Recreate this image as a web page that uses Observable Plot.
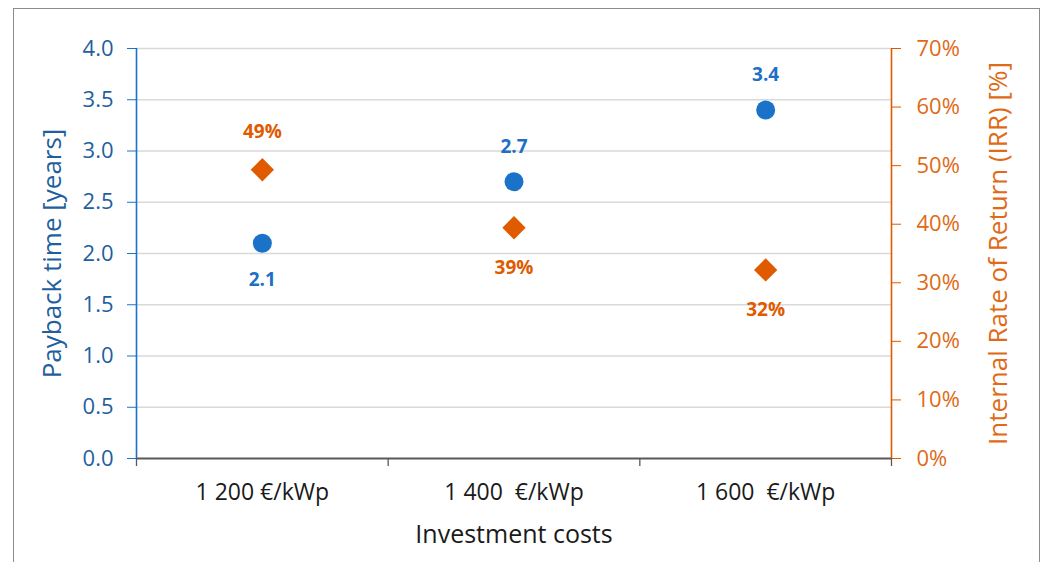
<!DOCTYPE html>
<html>
<head>
<meta charset="utf-8">
<script src="https://cdn.jsdelivr.net/npm/d3@7"></script>
<script src="https://cdn.jsdelivr.net/npm/@observablehq/plot@0.6"></script>
<style>
  html, body { margin: 0; padding: 0; background: #ffffff; }
  #wrap { position: relative; width: 1047px; height: 562px; overflow: hidden; }
  #frame { position: absolute; left: 13px; top: 8px; width: 1027px; height: 600px;
           border: 1.5px solid #8c8c8c; box-sizing: border-box; }
  svg text { white-space: pre; }
</style>
</head>
<body>
<div id="wrap"><div id="frame"></div></div>
<script>
// ---- data ----
const categories = ["1 200 €/kWp", "1 400  €/kWp", "1 600  €/kWp"];
const payback = [2.1, 2.7, 3.4];          // years (left axis)
const irr = [0.493, 0.394, 0.322];        // IRR (right axis)
const paybackLabels = ["2.1", "2.7", "3.4"];
const irrLabels = ["49%", "39%", "32%"];
const leftTicks = [0, 0.5, 1, 1.5, 2, 2.5, 3, 3.5, 4];
const rightTicks = [0, 0.1, 0.2, 0.3, 0.4, 0.5, 0.6, 0.7];
const leftMax = 4, rightMax = 0.7;

const blue = "#1a73c8", blueText = "#1f5fa0", blueLabel = "#1f6fc5";
const orange = "#e05a00", orangeText = "#e06a15";

const toLeft = p => p / rightMax * leftMax;
const rows = categories.map((c, i) => {
  const irrY = toLeft(irr[i]);
  return {
    i, x: i + 0.5, cat: c,
    pay: payback[i], payLabel: paybackLabels[i],
    irrY, irrLabel: irrLabels[i],
    irrAbove: irrY > payback[i]
  };
});

const chart = Plot.plot({
  width: 1047,
  height: 562,
  marginLeft: 136,
  marginRight: 156,
  marginTop: 48,
  marginBottom: 104,
  x: {domain: [0, 3]},
  y: {domain: [0, leftMax]},
  style: {fontFamily: "'Open Sans', 'Noto Sans', sans-serif", background: "transparent", overflow: "visible"},
  marks: [
    Plot.gridY(leftTicks.slice(1), {stroke: "#d9d9d9", strokeOpacity: 1, strokeWidth: 1.6}),
    // left axis
    Plot.ruleX([0], {stroke: blue, strokeWidth: 1.6}),
    Plot.axisY(leftTicks, {anchor: "left", tickSize: 9, tickPadding: 14, stroke: blue, fill: blueText,
      fontSize: 22, tickFormat: d => d.toFixed(1), label: null}),
    // right axis
    Plot.ruleX([3], {stroke: orange, strokeWidth: 1.6}),
    Plot.axisY(rightTicks.map(toLeft), {anchor: "right", tickSize: 9, tickPadding: 16, stroke: orange, fill: orangeText,
      fontSize: 22, tickFormat: v => Math.round(v / leftMax * rightMax * 100) + "%", label: null}),
    // bottom axis
    Plot.ruleY([0], {stroke: "#595959", strokeWidth: 2}),
    Plot.axisX([0, 1, 2, 3], {tickSize: 8, stroke: "#595959", strokeWidth: 1.3, tickFormat: () => "", label: null}),
    Plot.axisX(rows.map(d => d.x), {tickSize: 0, tickPadding: 25, fill: "#1a1a1a", fontSize: 23,
      tickFormat: v => categories[Math.floor(v)], label: null}),
    // axis titles
    Plot.text(["Payback time [years]"], {frameAnchor: "left", textAnchor: "middle", rotate: -90, dx: -84, fill: blueText, fontSize: 26}),
    Plot.text(["Internal Rate of Return (IRR) [%]"], {frameAnchor: "right", textAnchor: "middle", rotate: -90, dx: 107, fill: orangeText, fontSize: 26}),
    Plot.text(["Investment costs"], {frameAnchor: "bottom", dy: 84, fill: "#1a1a1a", fontSize: 25}),
    // data
    Plot.dot(rows, {x: "x", y: "irrY", symbol: "diamond2", r: 10.5, fill: orange, stroke: "none"}),
    Plot.dot(rows, {x: "x", y: "pay", symbol: "circle", r: 9.5, fill: blue, stroke: "none"}),
    // labels
    Plot.text(rows.filter(d => d.irrAbove), {x: "x", y: "pay", text: "payLabel", dy: 37, fill: blueLabel, fontSize: 19, fontWeight: "bold"}),
    Plot.text(rows.filter(d => !d.irrAbove), {x: "x", y: "pay", text: "payLabel", dy: -35, fill: blueLabel, fontSize: 19, fontWeight: "bold"}),
    Plot.text(rows.filter(d => d.irrAbove), {x: "x", y: "irrY", text: "irrLabel", dy: -38, fill: orange, fontSize: 19, fontWeight: "bold"}),
    Plot.text(rows.filter(d => !d.irrAbove), {x: "x", y: "irrY", text: "irrLabel", dy: 40, fill: orange, fontSize: 19, fontWeight: "bold"})
  ]
});
chart.style.position = "absolute";
chart.style.left = "0px";
chart.style.top = "0px";
document.getElementById("wrap").appendChild(chart);
</script>
</body>
</html>
